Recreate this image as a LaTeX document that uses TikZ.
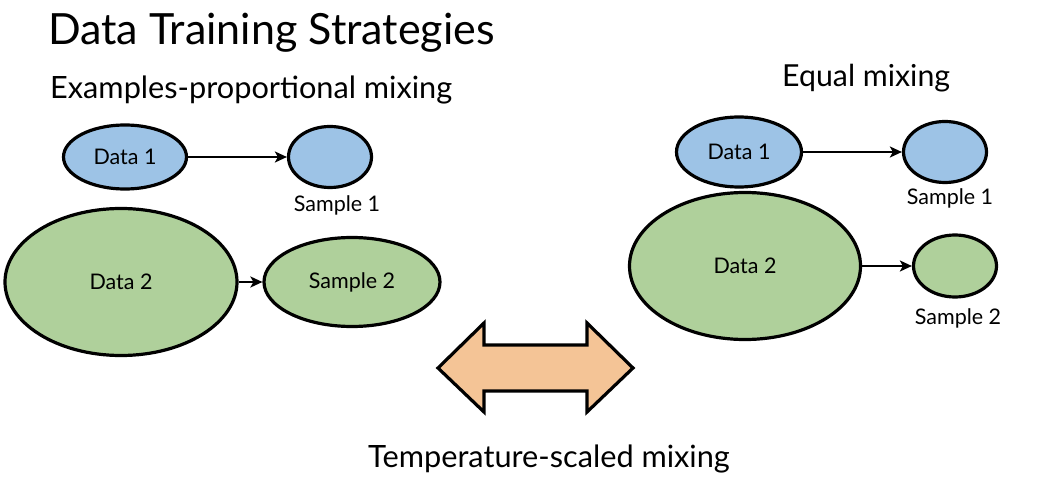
\documentclass[tikz,border=0pt]{standalone}
\usepackage{fontspec}
\setmainfont{Lato}
\usetikzlibrary{shapes.geometric,arrows.meta}
\definecolor{blueF}{HTML}{9DC3E6}
\definecolor{greenF}{HTML}{AFD09B}
\definecolor{orangeF}{HTML}{F4C496}
\tikzset{
  blob/.style={ellipse,draw=black,line width=3.2pt,inner sep=0pt},
  bluebl/.style={blob,fill=blueF},
  greenbl/.style={blob,fill=greenF},
  lbl/.style={font=\fontsize{21.5}{24}\selectfont,inner sep=0pt},
  ttl/.style={font=\fontsize{30.7}{34}\selectfont,inner sep=0pt,anchor=base west},
  conn/.style={line width=2.8pt,-{Stealth[length=12pt,width=11pt,inset=3pt]}}
}
\begin{document}
\begin{tikzpicture}[x=1pt,y=-1pt]
\useasboundingbox (0,0) rectangle (1051,494);
% titles
\node[ttl,font=\fontsize{43}{48}\selectfont] (title) at (48,45) {Data Training Strategies};
\node[ttl] (epm) at (50,99) {Examples-proportional mixing};
\node[ttl,font=\fontsize{30.3}{34}\selectfont] (eqm) at (782,87) {Equal mixing};
\node[ttl] (tsm) at (368,467) {Temperature-scaled mixing};
% left
\node[bluebl,minimum width=123pt,minimum height=64pt,lbl] (d1l) at (125,157) {Data 1};
\node[bluebl,minimum width=83pt,minimum height=61pt] (s1l) at (330,157) {};
\node[lbl] (s1lt) at (337,205) {Sample 1};
\node[greenbl,minimum width=232pt,minimum height=147pt,lbl] (d2l) at (121,282) {Data 2};
\node[greenbl,minimum width=176pt,minimum height=89pt,lbl] (s2l) at (352,282) {Sample 2};
\draw[conn] (d1l.east) -- (s1l.west);
\draw[conn] (d2l.east) -- (s2l.west);
% right
\node[bluebl,minimum width=125pt,minimum height=70pt,lbl] (d1r) at (739,152) {Data 1};
\node[bluebl,minimum width=83pt,minimum height=61pt] (s1r) at (945,152) {};
\node[lbl] (s1rt) at (950,198) {Sample 1};
\node[greenbl,minimum width=231pt,minimum height=147pt,lbl] (d2r) at (745,266) {Data 2};
\node[greenbl,minimum width=83pt,minimum height=62pt] (s2r) at (955,266) {};
\node[lbl] (s2rt) at (958,318) {Sample 2};
\draw[conn] (d1r.east) -- (s1r.west);
\draw[conn] (d2r.east) -- (s2r.west);
% double arrow
\draw[line width=3.2pt,fill=orangeF,line join=miter]
  (438,368) -- (484,323) -- (484,345) -- (587,345) -- (587,323) -- (633,368)
  -- (587,412) -- (587,391) -- (484,391) -- (484,412) -- cycle;
\end{tikzpicture}
\end{document}
